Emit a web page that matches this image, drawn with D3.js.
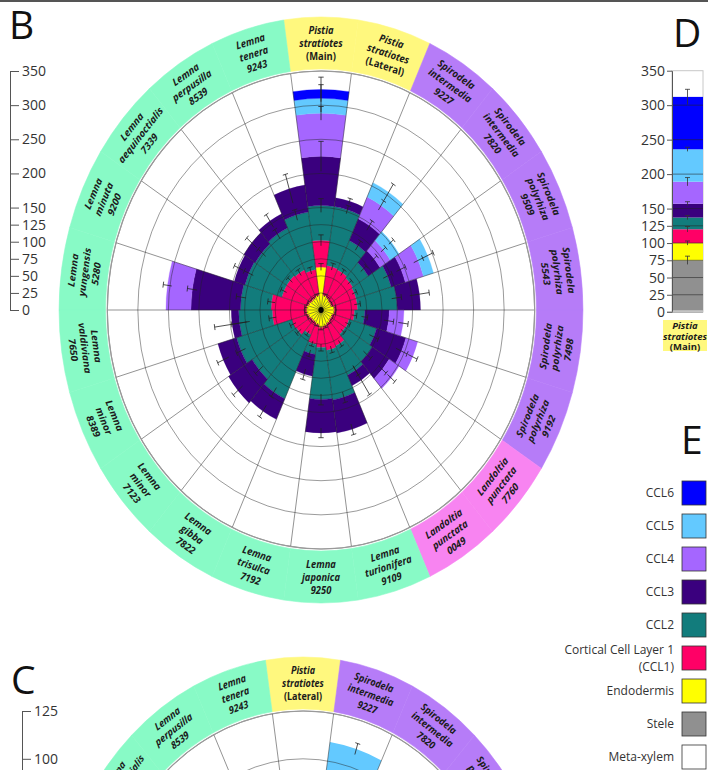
<!DOCTYPE html>
<html>
<head>
<meta charset="utf-8">
<script src="https://cdn.jsdelivr.net/npm/d3@7"></script>
<style>
  body { margin: 0; background: #fff; }
  svg { display: block; font-family: "Open Sans", "DejaVu Sans", sans-serif; }
</style>
</head>
<body>
<svg id="chart" width="708" height="770"></svg>
<script>
// ------------------------------
// Data
// ------------------------------

// Panel B sectors, clockwise from the top (label lines split by "|")
var speciesB = [
  "Pistia|stratiotes|(Main)", "Pistia|stratiotes|(Lateral)",
  "Spirodela|intermedia|9227", "Spirodela|intermedia|7820",
  "Spirodela|polyrhiza|9509", "Spirodela|polyrhiza|5543",
  "Spirodela|polyrhiza|7498", "Spirodela|polyrhiza|9192",
  "Landoltia|punctata|7760", "Landoltia|punctata|0049",
  "Lemna|turionifera|9109", "Lemna|japonica|9250", "Lemna|trisulca|7192",
  "Lemna|gibba|7822", "Lemna|minor|7123", "Lemna|minor|8389",
  "Lemna|valdiviana|7650", "Lemna|yungensis|5280", "Lemna|minuta|9200",
  "Lemna|aequinoctialis|7339", "Lemna|perpusilla|8539", "Lemna|tenera|9243"
];

// layer thickness per sector (same order as speciesB)
var endoB = [63, 22, 20, 18, 18, 22, 22, 20, 20, 22, 24, 26, 22, 20, 20, 22, 24, 24, 22, 20, 20, 22];
var ccl1B = [39, 44, 45, 44, 42, 38, 33, 28, 27, 36, 36, 29, 29, 20, 28, 28, 56, 58, 45, 47, 45, 38];
var ccl2B = [51, 87, 47, 30, 60, 65, 17, 47, 53, 47, 73, 76, 15, 103, 86, 94, 55, 50, 63, 61, 67, 85];
var ccl3B = [72, 13, 35, 23, 24, 38, 40, 50, 33, 17, 49, 49, 32, 33, 46, 32, 12, 81, 18, 22, 23, 40];
var ccl4B = [63, 0, 35, 20, 31, 0, 24, 20, 19, 0, 0, 0, 0, 0, 0, 0, 0, 41, 0, 0, 0, 0];
var ccl5B = [22, 0, 23, 17, 17, 0, 0, 0, 0, 0, 0, 0, 0, 0, 0, 0, 0, 0, 0, 0, 0, 0];
var ccl6B = [13, 0, 0, 0, 0, 0, 0, 0, 0, 0, 0, 0, 0, 0, 0, 0, 0, 0, 0, 0, 0, 0];

// error bar half-lengths per layer
var endoErrB = [5, 2, 2, 2, 2, 2, 2, 2, 2, 2, 3, 3, 2, 2, 2, 2, 3, 3, 2, 2, 2, 2];
var ccl1ErrB = [8, 5, 5, 4, 4, 5, 4, 4, 4, 5, 5, 5, 4, 4, 5, 5, 6, 6, 5, 5, 5, 5];
var ccl2ErrB = [10, 6, 8, 6, 8, 8, 5, 8, 8, 8, 8, 8, 5, 8, 8, 8, 13, 8, 8, 8, 8, 8];
var ccl3ErrB = [22, 4, 8, 6, 8, 16, 8, 10, 8, 25, 8, 7, 8, 10, 10, 10, 29, 8, 8, 11, 11, 22];
var ccl4ErrB = [10, 0, 8, 5, 8, 0, 8, 8, 8, 0, 0, 0, 0, 0, 0, 0, 0, 7, 0, 0, 0, 0];
var ccl5ErrB = [20, 0, 14, 5, 10, 0, 0, 0, 0, 0, 0, 0, 0, 0, 0, 0, 0, 0, 0, 0, 0, 0];
var ccl6ErrB = [18, 0, 0, 0, 0, 0, 0, 0, 0, 0, 0, 0, 0, 0, 0, 0, 0, 0, 0, 0, 0, 0];

var ticksB = [0, 25, 50, 75, 100, 125, 150, 200, 250, 300, 350];

// Panel C: same species without Pistia (Main); only the part above the crop is visible
var speciesC = speciesB.slice(1);
var ticksC = [0, 25, 50, 75, 100, 125];
var visibleBarsC = [
  { species: "Spirodela|intermedia|9227", layer: "ccl5", lo: 92, hi: 110, err: 3 }
];

// Panel D: Pistia stratiotes (Main), bottom to top
var layersD = ["metaxylem", "stele", "endo", "ccl1", "ccl2", "ccl3", "ccl4", "ccl5", "ccl6"];
var valuesD = [2, 73, 25, 20, 17, 20, 32, 47, 76];
var errD = [0, 6, 3, 4, 3, 3, 6, 3, 11];

// Legend E
var legendKeys = ["ccl6", "ccl5", "ccl4", "ccl3", "ccl2", "ccl1", "endo", "stele", "metaxylem"];
var legendLabels = ["CCL6", "CCL5", "CCL4", "CCL3", "CCL2", "Cortical Cell Layer 1|(CCL1)",
                    "Endodermis", "Stele", "Meta-xylem"];

var layerKeys = ["endo", "ccl1", "ccl2", "ccl3", "ccl4", "ccl5", "ccl6"];
var layerColor = {
  metaxylem: "#ffffff", stele: "#909090", endo: "#ffff00", ccl1: "#ff0066",
  ccl2: "#127c7c", ccl3: "#3a007e", ccl4: "#a566ff", ccl5: "#63c9ff", ccl6: "#0000ff"
};
var genusColor = { Lemna: "#88fac6", Pistia: "#fff87e", Spirodela: "#b67cf8", Landoltia: "#f884f1" };

// ------------------------------
// Setup
// ------------------------------
var svg = d3.select("#chart");
svg.append("rect").attr("width", 708).attr("height", 2).attr("fill", "#555");

function panelLetter(txt, x, y) {
  svg.append("text").attr("x", x).attr("y", y).text(txt)
    .style("font-size", "39px").style("fill", "#111");
}

// shared polar frame: grid, ring and labels
function polarFrame(g, species, r, ticks, maxV) {
  var n = species.length, step = 2 * Math.PI / n;
  var ringArc = d3.arc().innerRadius(241).outerRadius(293);

  g.append("circle").attr("r", r(maxV)).attr("fill", "#fff");

  g.selectAll("path.ring").data(species).join("path")
    .attr("class", "ring")
    .attr("d", function(d, i) { return ringArc({ startAngle: (i - 0.5) * step, endAngle: (i + 0.5) * step }); })
    .attr("fill", function(d) { return genusColor[d.split("|")[0]]; })
    .attr("stroke", function(d) { return genusColor[d.split("|")[0]]; })
    .attr("stroke-width", 0.6);

  g.selectAll("text.lab").data(species).join("text")
    .attr("class", "lab")
    .attr("text-anchor", "middle")
    .attr("transform", function(d, i) {
      var a = i * 360 / n;
      var flip = a > 90 && a < 270;
      return "rotate(" + a + ") translate(0,-267)" + (flip ? " rotate(180)" : "");
    })
    .style("font-size", "10.5px").style("font-weight", 700).style("fill", "#1b1b1b")
    .each(function(d) {
      var t = d3.select(this);
      d.split("|").forEach(function(line, j) {
        t.append("tspan").attr("x", 0).attr("y", (j - 1) * 13).attr("dy", "0.35em")
          .style("font-style", line.charAt(0) === "(" ? "normal" : "italic")
          .text(line);
      });
    });
  return step;
}

function polarGrid(g, n, r, ticks, maxV) {
  var step = 2 * Math.PI / n;
  g.selectAll("circle.grid").data(ticks.filter(function(t) { return t > 0; })).join("circle")
    .attr("class", "grid").attr("r", function(d) { return r(d); })
    .attr("fill", "none").attr("stroke", "#222").attr("stroke-opacity", 0.5)
    .attr("stroke-width", 0.9).attr("vector-effect", "non-scaling-stroke");
  g.selectAll("line.spoke").data(d3.range(n)).join("line")
    .attr("class", "spoke")
    .attr("x1", 0).attr("y1", 0)
    .attr("x2", function(i) { return r(maxV) * Math.sin((i - 0.5) * step); })
    .attr("y2", function(i) { return -r(maxV) * Math.cos((i - 0.5) * step); })
    .attr("stroke", "#222").attr("stroke-opacity", 0.55)
    .attr("stroke-width", 0.9).attr("vector-effect", "non-scaling-stroke");
  g.append("circle").attr("r", r(maxV)).attr("fill", "none")
    .attr("stroke", "#999").attr("stroke-width", 1.2).attr("vector-effect", "non-scaling-stroke");
}

function errorBar(g, ang, r0, r1) {
  var sa = Math.sin(ang), ca = Math.cos(ang);
  g.append("line")
    .attr("x1", r0 * sa).attr("y1", -r0 * ca).attr("x2", r1 * sa).attr("y2", -r1 * ca);
  g.append("line")
    .attr("x1", r1 * sa - 3 * ca).attr("y1", -r1 * ca - 3 * sa)
    .attr("x2", r1 * sa + 3 * ca).attr("y2", -r1 * ca + 3 * sa);
}

// ------------------------------
// Panel B
// ------------------------------
var rB = d3.scaleLinear().domain([0, 350]).range([0, 239]);
var gB = svg.append("g").attr("transform", "translate(321,310) scale(0.894,1)");
var stepB = polarFrame(gB, speciesB, rB, ticksB, 350);

var rowsB = speciesB.map(function(s, i) {
  return { endo: endoB[i], ccl1: ccl1B[i], ccl2: ccl2B[i], ccl3: ccl3B[i],
           ccl4: ccl4B[i], ccl5: ccl5B[i], ccl6: ccl6B[i] };
});
var errB = { endo: endoErrB, ccl1: ccl1ErrB, ccl2: ccl2ErrB, ccl3: ccl3ErrB,
             ccl4: ccl4ErrB, ccl5: ccl5ErrB, ccl6: ccl6ErrB };
var stackB = d3.stack().keys(layerKeys)(rowsB);

var barArc = d3.arc();
var pieces = [];
stackB.forEach(function(s) {
  s.forEach(function(d, i) {
    if (d[1] > d[0]) pieces.push({ key: s.key, i: i, lo: d[0], hi: d[1] });
  });
});
gB.selectAll("path.bar").data(pieces).join("path")
  .attr("class", "bar")
  .attr("d", function(p) {
    return barArc({ innerRadius: rB(p.lo), outerRadius: rB(p.hi),
                    startAngle: (p.i - 0.5) * stepB, endAngle: (p.i + 0.5) * stepB });
  })
  .attr("fill", function(p) { return layerColor[p.key]; })
  .attr("stroke", function(p) { return layerColor[p.key]; })
  .attr("stroke-width", 0.3);

polarGrid(gB, speciesB.length, rB, ticksB, 350);

var ebB = gB.append("g").attr("stroke", "#222").attr("stroke-width", 0.8)
  .attr("vector-effect", "non-scaling-stroke");
pieces.forEach(function(p) {
  var e = errB[p.key][p.i];
  if (e > 0) errorBar(ebB, p.i * stepB, rB(p.hi - e), rB(p.hi + e));
});
ebB.selectAll("line").attr("vector-effect", "non-scaling-stroke");

gB.append("circle").attr("r", 3).attr("fill", "#000");

var yB = d3.scaleLinear().domain([0, 350]).range([310, 71]);
var axB = svg.append("g").attr("transform", "translate(10,0)")
  .call(d3.axisRight(yB).tickValues(ticksB).tickSize(9).tickSizeOuter(0).tickPadding(3));

// ------------------------------
// Panel C
// ------------------------------
var rC = d3.scaleLinear().domain([0, 125]).range([0, 239]);
var gC = svg.append("g").attr("transform", "translate(303,950) scale(0.86,1)");
var stepC = polarFrame(gC, speciesC, rC, ticksC, 125);

gC.selectAll("path.bar").data(visibleBarsC).join("path")
  .attr("class", "bar")
  .attr("d", function(b) {
    var i = speciesC.indexOf(b.species);
    return barArc({ innerRadius: rC(b.lo), outerRadius: rC(b.hi),
                    startAngle: (i - 0.5) * stepC, endAngle: (i + 0.5) * stepC });
  })
  .attr("fill", function(b) { return layerColor[b.layer]; });

polarGrid(gC, speciesC.length, rC, ticksC, 125);

var ebC = gC.append("g").attr("stroke", "#222").attr("stroke-width", 0.8);
visibleBarsC.forEach(function(b) {
  var i = speciesC.indexOf(b.species);
  errorBar(ebC, i * stepC, rC(b.hi - b.err), rC(b.hi + b.err));
});
ebC.selectAll("line").attr("vector-effect", "non-scaling-stroke");

var yC = d3.scaleLinear().domain([0, 125]).range([950, 711]);
var axC = svg.append("g").attr("transform", "translate(22,0)")
  .call(d3.axisRight(yC).tickValues(ticksC).tickSize(9).tickSizeOuter(0).tickPadding(3));

// ------------------------------
// Panel D
// ------------------------------
var yD = d3.scaleLinear().domain([0, 350]).range([312, 70.7]);
var xD0 = 672, wD = 31;
svg.append("rect").attr("x", xD0).attr("y", yD(350)).attr("width", wD)
  .attr("height", yD(0) - yD(350)).attr("fill", "#fff").attr("stroke", "#c8c8c8");

var rowD = {};
layersD.forEach(function(k, i) { rowD[k] = valuesD[i]; });
var stackD = d3.stack().keys(layersD)([rowD]);
svg.append("g").selectAll("rect").data(stackD).join("rect")
  .attr("x", xD0).attr("width", wD)
  .attr("y", function(s) { return yD(s[0][1]); })
  .attr("height", function(s) { return yD(s[0][0]) - yD(s[0][1]); })
  .attr("fill", function(s) { return layerColor[s.key]; });

svg.append("g").selectAll("line").data(ticksB.filter(function(t) { return t > 0 && t < 350; })).join("line")
  .attr("x1", xD0).attr("x2", xD0 + wD)
  .attr("y1", function(t) { return yD(t); }).attr("y2", function(t) { return yD(t); })
  .attr("stroke", "#222").attr("stroke-opacity", 0.55);

var ebD = svg.append("g").attr("stroke", "#333").attr("stroke-width", 0.8);
stackD.forEach(function(s, i) {
  var e = errD[i];
  if (e > 0) {
    var top = s[0][1], cx = xD0 + wD / 2;
    ebD.append("line").attr("x1", cx).attr("x2", cx).attr("y1", yD(top - e)).attr("y2", yD(top + e));
    ebD.append("line").attr("x1", cx - 2.5).attr("x2", cx + 2.5).attr("y1", yD(top + e)).attr("y2", yD(top + e));
  }
});

var axD = svg.append("g").attr("transform", "translate(" + xD0 + ",0)")
  .call(d3.axisLeft(yD).tickValues(ticksB).tickSize(5).tickSizeOuter(0).tickPadding(2));
svg.append("line").attr("x1", xD0 - 5).attr("x2", xD0 + wD).attr("y1", yD(0)).attr("y2", yD(0))
  .attr("stroke", "#888");

svg.append("rect").attr("x", 663).attr("y", 320).attr("width", 44).attr("height", 31)
  .attr("fill", genusColor.Pistia);
var labD = svg.append("text").attr("text-anchor", "middle")
  .style("font-size", "9.5px").style("font-weight", 700).style("fill", "#1b1b1b");
["Pistia", "stratiotes", "(Main)"].forEach(function(l, j) {
  labD.append("tspan").attr("x", 685).attr("y", 329 + j * 10.5)
    .style("font-style", j < 2 ? "italic" : "normal").text(l);
});

[axB, axC, axD].forEach(function(ax) {
  ax.select(".domain").attr("stroke", "#555");
  ax.selectAll(".tick line").attr("stroke", "#555");
  ax.selectAll(".tick text").style("font-size", "14px").style("fill", "#333")
    .style("font-family", "'Open Sans', sans-serif");
});

// ------------------------------
// Legend E
// ------------------------------
var leg = svg.append("g").selectAll("g").data(legendKeys).join("g")
  .attr("transform", function(d, i) { return "translate(0," + (493 + i * 33) + ")"; });
leg.append("rect").attr("x", 682).attr("y", -12).attr("width", 24).attr("height", 24)
  .attr("fill", function(d) { return layerColor[d]; }).attr("stroke", "#333").attr("stroke-width", 0.8);
leg.append("text").attr("text-anchor", "end")
  .style("font-size", "12px").style("fill", "#333")
  .each(function(d, i) {
    var lines = legendLabels[i].split("|"), t = d3.select(this);
    lines.forEach(function(l, j) {
      t.append("tspan").attr("x", 674)
        .attr("y", (j - (lines.length - 1) / 2) * 17).attr("dy", "0.35em").text(l);
    });
  });

panelLetter("B", 9, 39);
panelLetter("C", 11, 694);
panelLetter("D", 673, 47);
panelLetter("E", 681, 454);
</script>
</body>
</html>
